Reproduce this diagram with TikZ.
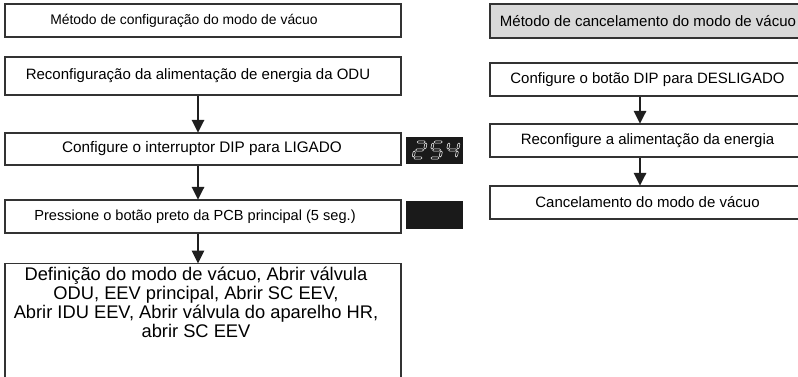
\documentclass[tikz,border=0pt]{standalone}
\usepackage{fontspec}
\setmainfont{Liberation Sans}
\usetikzlibrary{arrows.meta}
\definecolor{linec}{HTML}{333333}
\definecolor{grayfill}{HTML}{D9D9D9}
\definecolor{dispbg}{HTML}{1A1A1A}
\newcommand\hsg[3]{\draw[segs] (#1,#3) -- ++(1.1,1.1) -- (#2-1.1,#3+1.1) -- (#2,#3) -- (#2-1.1,#3-1.1) -- (#1+1.1,#3-1.1) -- cycle;}
\newcommand\vsg[3]{\draw[segs] (#1,#2) -- (#1+1.1,#2+1.1) -- (#1+1.1,#3-1.1) -- (#1,#3) -- (#1-1.1,#3-1.1) -- (#1-1.1,#2+1.1) -- cycle;}
\begin{document}
\begin{tikzpicture}[x=1pt,y=-1pt,
  box/.style={draw=linec, line width=1.2pt, inner sep=0pt},
  lbl/.style={inner sep=0pt, font=\fontsize{#1}{#1}\selectfont},
  flowarrow/.style={line width=2.8pt, draw=black!88, -{Triangle[width=12pt,length=13pt]}, shorten >=-0.5pt},
  bigtext/.style={align=center, font=\fontsize{18.3}{19}\selectfont, inner sep=0pt},
  segs/.style={draw=white, fill=dispbg, line width=0.5pt, line join=miter}]
\useasboundingbox (0,0) rectangle (798,377);
% left column
\node[box, minimum width=396pt, minimum height=33pt] (b1) at (203,20.5) {};
\node[lbl=13.9] (t1) at (184,20.5) {Método de configuração do modo de vácuo};
\node[box, minimum width=396pt, minimum height=38pt] (b2) at (203,76) {};
\node[lbl=15] (t2) at (198,76) {Reconfiguração da alimentação de energia da ODU};
\node[box, minimum width=396pt, minimum height=32pt] (b3) at (203,149) {};
\node[lbl=15.3] (t3) at (202,149) {Configure o interruptor DIP para LIGADO};
\node[box, minimum width=396pt, minimum height=33pt] (b4) at (203,216.5) {};
\node[lbl=14.6] (t4) at (195,216.5) {Pressione o botão preto da PCB principal (5 seg.)};
\node[box, minimum width=396pt, minimum height=140pt, anchor=north] (b5) at (203,263) {};
\node[bigtext] (t5) at (196,302.5) {Definição do modo de vácuo, Abrir válvula\\ODU, EEV principal, Abrir SC EEV,\\Abrir IDU EEV, Abrir válvula do aparelho HR,\\abrir SC EEV};
\coordinate (ax) at (198,0);
\draw[flowarrow] (b2.south -| ax) -- (b3.north -| ax);
\draw[flowarrow] (b3.south -| ax) -- (b4.north -| ax);
\draw[flowarrow] (b4.south -| ax) -- (b5.north -| ax);
% displays
\node[fill=dispbg, minimum width=57pt, minimum height=27pt, inner sep=0pt] (d1) at (434.5,150.5) {};
\node[fill=dispbg, minimum width=57pt, minimum height=28pt, inner sep=0pt] (d2) at (434.5,215) {};
\begin{scope}[shift={(413,158)}, yscale=-1, xslant=-0.2]
  \hsg{1}{9}{16}\vsg{10}{9}{15}\hsg{1}{9}{8}\vsg{0}{1}{7}\hsg{1}{9}{0}
\end{scope}
\begin{scope}[shift={(430,158)}, yscale=-1, xslant=-0.2]
  \hsg{1}{9}{16}\vsg{0}{9}{15}\hsg{1}{9}{8}\vsg{10}{1}{7}\hsg{1}{9}{0}
\end{scope}
\begin{scope}[shift={(446,158)}, yscale=-1, xslant=-0.2]
  \vsg{0}{9}{15}\hsg{1}{9}{8}\vsg{10}{9}{15}\vsg{10}{1}{7}
\end{scope}
% right column
\node[box, fill=grayfill, minimum width=315pt, minimum height=34pt] (r1) at (647.5,21) {};
\node[lbl=15] (s1) at (648,21) {Método de cancelamento do modo de vácuo};
\node[box, minimum width=315pt, minimum height=33pt] (r2) at (647.5,79.5) {};
\node[lbl=15] (s2) at (647.5,79.5) {Configure o botão DIP para DESLIGADO};
\node[box, minimum width=315pt, minimum height=33pt] (r3) at (647.5,140.5) {};
\node[lbl=15] (s3) at (647.5,140.5) {Reconfigure a alimentação da energia};
\node[box, minimum width=315pt, minimum height=33pt] (r4) at (647.5,202.5) {};
\node[lbl=15] (s4) at (647.5,202.5) {Cancelamento do modo de vácuo};
\coordinate (bx) at (640,0);
\draw[flowarrow] (r2.south -| bx) -- (r3.north -| bx);
\draw[flowarrow] (r3.south -| bx) -- (r4.north -| bx);
\end{tikzpicture}
\end{document}
